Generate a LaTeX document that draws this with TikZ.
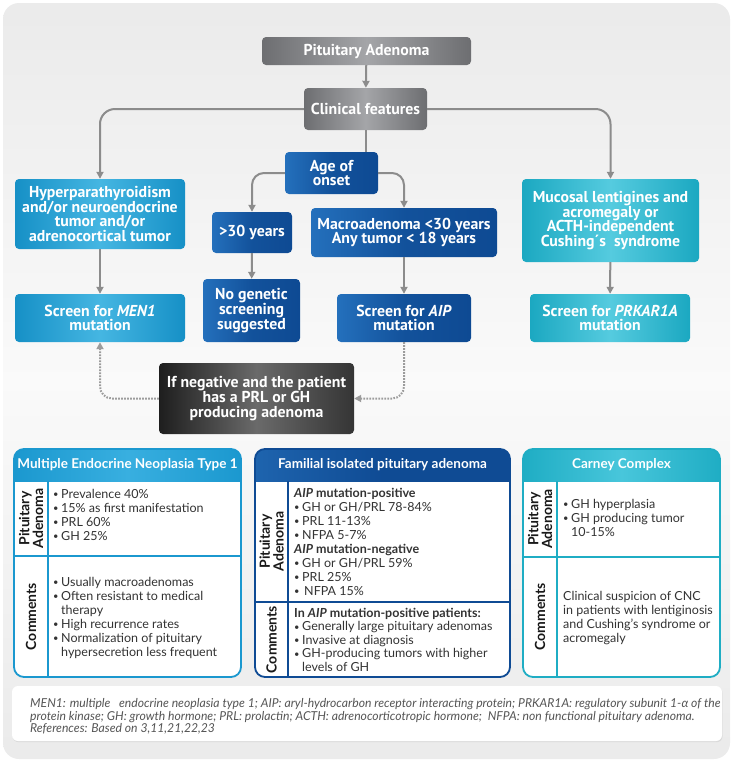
\documentclass[tikz,border=0pt]{standalone}
\usepackage{fontspec}
\setmainfont{Lato}
\newfontfamily\boxfont{PT Sans}
\newfontfamily\notefont[FakeStretch=0.99]{Lato}
\usetikzlibrary{positioning,shadows,arrows.meta}

\definecolor{boxgrayd}{HTML}{6D6E71}
\definecolor{boxgrayl}{HTML}{A4A5A8}
\definecolor{boxblued}{HTML}{0E4A93}
\definecolor{boxbluel}{HTML}{2470BC}
\definecolor{boxcyand}{HTML}{1690C6}
\definecolor{boxcyanl}{HTML}{45B6E2}
\definecolor{boxteald}{HTML}{1BA8C1}
\definecolor{boxteall}{HTML}{55CBDF}
\definecolor{boxblackd}{HTML}{1E1E1E}
\definecolor{boxblackl}{HTML}{6A6A6A}
\definecolor{conngray}{HTML}{8C8C8C}
\definecolor{dotgray}{HTML}{9C9C9C}
\definecolor{txtgray}{HTML}{333333}
\definecolor{notegray}{HTML}{555555}
\definecolor{men1d}{HTML}{1B98CF}
\definecolor{men1l}{HTML}{38AFE0}
\definecolor{fipad}{HTML}{0F4B94}
\definecolor{fipal}{HTML}{1E64AE}
\definecolor{carneyd}{HTML}{1FADC4}
\definecolor{carneyl}{HTML}{48C6DB}

\newcommand{\bul}{\makebox[8pt][l]{\raisebox{0.5pt}{\scalebox{0.75}{\textbullet}}}}

\begin{document}
\begin{tikzpicture}
        [x=1pt, y=-1pt,
        box/.style={rounded corners=4pt, text=white, align=center, inner sep=0pt,
            font=\boxfont\bfseries\fontsize{15.8}{14.8}\selectfont},
        graybox/.style={box, left color=boxgrayd, right color=boxgrayd, middle color=boxgrayl},
        bluebox/.style={box, left color=boxbluel, right color=boxblued, middle color=boxblued!80!boxbluel},
        cyanbox/.style={box, left color=boxcyand, right color=boxcyand, middle color=boxcyanl},
        tealbox/.style={box, left color=boxteald, right color=boxteald, middle color=boxteall},
        blackbox/.style={box, left color=boxblackd, right color=boxblackd!70!boxblackl, middle color=boxblackl},
        conn/.style={draw=conngray, line width=2pt, -{Triangle[length=7pt,width=7pt]}},
        dotconn/.style={conn, draw=dotgray, dash pattern=on 1.6pt off 1.4pt},
        tabline/.style={draw=#1, line width=1.8pt},
        tabhead/.style={text=white, font=\bfseries\fontsize{13.5}{14}\selectfont},
        vlabel/.style={rotate=90, align=center, text=black!90, inner sep=0pt,
            font=\bfseries\fontsize{14}{12.5}\selectfont},
        tabtext/.style={anchor=north west, align=left, inner sep=0pt, text=txtgray,
            font=\fontsize{12.5}{14}\selectfont}]
        \useasboundingbox (0,0) rectangle (734,764);
        % background
        \shade[rounded corners=16pt, top color=black!8, bottom color=black!8, middle color=black!2]
            (3,3) rectangle (730,759);

        % flow chart
        \node[graybox, minimum width=209pt, minimum height=28pt] (pit) at (366.5,51) {Pituitary Adenoma};
        \node[graybox, minimum width=123pt, minimum height=42pt] (clin) at (365.5,109) {Clinical features};
        \node[bluebox, minimum width=93pt, minimum height=42pt] (age) at (331.5,173) {Age of\\onset};
        \node[cyanbox, minimum width=170pt, minimum height=70pt] (hyper) at (100,214)
            {Hyperparathyroidism\\and/or neuroendocrine\\tumor and/or\\adrenocortical tumor};
        \node[bluebox, minimum width=80pt, minimum height=41pt] (over) at (252,232.5) {\textgreater30 years};
        \node[bluebox, minimum width=186pt, minimum height=49pt] (macro) at (404,232.5)
            {Macroadenoma \textless30 years\\Any tumor \textless{} 18 years};
        \node[tealbox, minimum width=177pt, minimum height=83pt] (mucosal) at (610.5,220.5)
            {Mucosal lentigines and\\acromegaly or\\ACTH-independent\\Cushing´s~ syndrome};
        \node[cyanbox, minimum width=170pt, minimum height=48pt] (men1) at (100,318) {Screen for \textit{MEN1}\\mutation};
        \node[bluebox, minimum width=97pt, minimum height=63pt] (nogen) at (251.5,310.5) {No genetic\\screening\\suggested};
        \node[bluebox, minimum width=134pt, minimum height=48pt] (aip) at (404,318) {Screen for \textit{AIP}\\mutation};
        \node[tealbox, minimum width=160pt, minimum height=48pt] (prk) at (610,318) {Screen for \textit{PRKAR1A}\\mutation};
        \node[blackbox, minimum width=195pt, minimum height=71pt] (neg) at (256.5,398.5)
            {If negative and the patient\\has a PRL or GH\\producing adenoma};

        \draw[conn] (pit) -- (clin);
        \draw[conn, rounded corners=15pt] (clin.west) -| (hyper.north);
        \draw[conn, rounded corners=15pt] (clin.east) -| (mucosal.north);
        \draw[draw=conngray, line width=2pt] (clin.south) -- (clin.south |- age.north);
        \draw[conn, rounded corners=12pt] (age.west) -| (over.north);
        \draw[conn, rounded corners=12pt] (age.east) -| (macro.north);
        \draw[conn] (hyper) -- (men1);
        \draw[conn] (over) -- (nogen);
        \draw[conn] (macro) -- (aip);
        \draw[conn] (mucosal) -- (prk);
        \draw[dotconn, rounded corners=12pt] (neg.west) -| (men1.south);
        \draw[dotconn, rounded corners=12pt] (aip.south) |- (neg.east);

        % MEN1 table
        \begin{scope}
            \clip[rounded corners=10pt] (14,449) rectangle (241,677);
            \fill[white] (14,449) rectangle (241,677);
            \shade[left color=men1d, right color=men1d, middle color=men1l] (14,449) rectangle (241,481);
        \end{scope}
        \draw[tabline=men1d] (48,481) -- (48,677) (14,556) -- (241,556);
        \draw[tabline=men1d, rounded corners=10pt] (14,449) rectangle (241,677);
        \node[tabhead] (men1head) at (127.5,465) {Multiple Endocrine Neoplasia Type 1};
        \node[vlabel] (men1pa) at (31,518.5) {Pituitary\\Adenoma};
        \node[vlabel] (men1com) at (31,616.5) {Comments};
        \node[tabtext] (men1patext) at (53,489)
            {\bul Prevalence 40\%\\\bul 15\% as first manifestation\\\bul PRL 60\%\\\bul GH 25\%};
        \node[tabtext] (men1comtext) at (53,577)
            {\bul Usually macroadenomas\\\bul Often resistant to medical\\\hspace*{8pt}therapy\\
             \bul High recurrence rates\\\bul Normalization of pituitary\\\hspace*{8pt}hypersecretion less frequent};

        % FIPA table
        \begin{scope}
            \clip[rounded corners=10pt] (255,449) rectangle (510,677);
            \fill[white] (255,449) rectangle (510,677);
            \shade[left color=fipal, right color=fipad, middle color=fipad] (255,449) rectangle (510,481);
        \end{scope}
        \draw[tabline=fipad] (288,481) -- (288,677) (255,602) -- (510,602);
        \draw[tabline=fipad, rounded corners=10pt] (255,449) rectangle (510,677);
        \node[tabhead] (fipahead) at (382.5,465) {Familial isolated pituitary adenoma};
        \node[vlabel] (fipapa) at (271.5,541.5) {Pituitary\\Adenoma};
        \node[vlabel] (fipacom) at (271.5,639.5) {Comments};
        \node[tabtext] (fipapatext) at (294,487.5)
            {\textbf{\textit{AIP} mutation-positive}\\\bul GH or GH/PRL 78-84\%\\\bul PRL 11-13\%\\\bul NFPA 5-7\%\\
             \textbf{\textit{AIP} mutation-negative}\\\bul GH or GH/PRL 59\%\\\bul PRL 25\%\\\bul\hspace{2pt}NFPA 15\%};
        \node[tabtext, font=\fontsize{12.5}{13.6}\selectfont] (fipacomtext) at (294,607.5)
            {\textbf{In \textit{AIP} mutation-positive patients:}\\\bul Generally large pituitary adenomas\\
             \bul Invasive at diagnosis\\\bul GH-producing tumors with higher\\\hspace*{8pt}levels of GH};

        % Carney table
        \begin{scope}
            \clip[rounded corners=10pt] (523,449) rectangle (720,677);
            \fill[white] (523,449) rectangle (720,677);
            \shade[left color=carneyd, right color=carneyd, middle color=carneyl] (523,449) rectangle (720,481);
        \end{scope}
        \draw[tabline=carneyd] (557,481) -- (557,677) (523,557) -- (720,557);
        \draw[tabline=carneyd, rounded corners=10pt] (523,449) rectangle (720,677);
        \node[tabhead] (carneyhead) at (621.5,465) {Carney Complex};
        \node[vlabel] (carneypa) at (540,519) {Pituitary\\Adenoma};
        \node[vlabel] (carneycom) at (540,617) {Comments};
        \node[tabtext] (carneypatext) at (563,499)
            {\bul GH hyperplasia\\\bul GH producing tumor\\\hspace*{8pt}10-15\%};
        \node[tabtext] (carneycomtext) at (563,591)
            {Clinical suspicion of CNC\\in patients with lentiginosis\\and Cushing’s syndrome or\\acromegaly};

        % footnote
        \node[fill=white, rounded corners=6pt, minimum width=710pt, minimum height=55pt,
            drop shadow={opacity=0.15, shadow xshift=0.6pt, shadow yshift=-1.2pt}] (notebox) at (367,713.5) {};
        \node[anchor=north west, align=left, inner sep=0pt, text=notegray,
            font=\notefont\itshape\fontsize{12.3}{12.8}\selectfont] (notetext) at (30,698)
            {MEN1: multiple\ \ \ endocrine neoplasia type 1; AIP: aryl-hydrocarbon receptor interacting protein; PRKAR1A: regulatory subunit 1-α of the\\
             protein kinase; GH: growth hormone; PRL: prolactin; ACTH: adrenocorticotropic hormone;\ \ NFPA: non functional pituitary adenoma.\\
             References: Based on 3,11,21,22,23};
        \end{tikzpicture}
\end{document}
